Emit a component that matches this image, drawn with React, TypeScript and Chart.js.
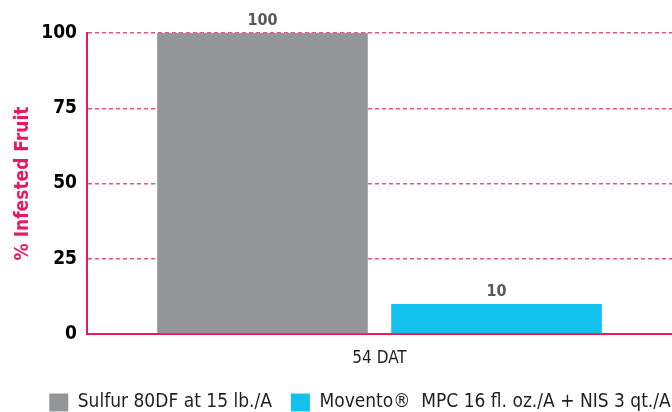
import React, { useEffect, useRef } from "react";
import { Chart, registerables } from "chart.js";

Chart.register(...registerables);

const categories = ["54 DAT"];
const seriesNames = ["Sulfur 80DF at 15 lb./A", "Movento®  MPC 16 fl. oz./A + NIS 3 qt./A"];
const sulfurValues = [100];
const moventoValues = [10];
const yTicks = [0, 25, 50, 75, 100];

const PINK = "#e8195f";
const GRID_PINK = "#ee4f85";
const GREY = "#939598";
const BLUE = "#13c1ef";
const FONT = "'DejaVu Sans Condensed', 'Roboto', sans-serif";

const valueLabels = {
  id: "valueLabels",
  afterDatasetsDraw(chart: any) {
    const ctx = chart.ctx;
    ctx.save();
    ctx.font = `bold 16px ${FONT}`;
    ctx.fillStyle = "#58595b";
    ctx.textAlign = "center";
    ctx.textBaseline = "bottom";
    chart.data.datasets.forEach((ds: any, i: number) => {
      const meta = chart.getDatasetMeta(i);
      meta.data.forEach((bar: any, j: number) => {
        ctx.fillText(String(ds.data[j]), bar.x, bar.y - 4);
      });
    });
    ctx.restore();
  },
};

const legendShift = {
  id: "legendShift",
  afterLayout(chart: any) {
    if (chart.legend) {
      chart.legend.left += 24;
      chart.legend.right += 24;
    }
  },
};

export default function App() {
  const ref = useRef<HTMLCanvasElement>(null);
  useEffect(() => {
    const chart = new Chart(ref.current!, {
      type: "bar",
      data: {
        labels: categories,
        datasets: [
          { label: seriesNames[0], data: sulfurValues, backgroundColor: GREY, barPercentage: 0.9, categoryPercentage: 0.8 },
          { label: seriesNames[1], data: moventoValues, backgroundColor: BLUE, barPercentage: 0.9, categoryPercentage: 0.8 },
        ],
      },
      options: {
        responsive: false,
        animation: false,
        layout: { padding: { top: 33, right: 0, left: 0, bottom: -10 } },
        plugins: {
          tooltip: { enabled: false },
          legend: {
            position: "bottom",
            labels: {
              boxWidth: 19,
              boxHeight: 18,
              padding: 19,
              color: "#231f20",
              font: { family: FONT, size: 19 },
            },
          },
        },
        scales: {
          x: {
            grid: { display: false, drawTicks: false },
            border: { color: PINK, width: 2 },
            ticks: { color: "#231f20", font: { family: FONT, size: 17 }, padding: 14 },
            afterFit(scale: any) { scale.height = 40; },
          },
          y: {
            min: 0,
            max: 100,
            afterBuildTicks(scale: any) { scale.ticks = yTicks.map((v) => ({ value: v })); },
            grid: { color: GRID_PINK, drawTicks: false, lineWidth: 1.5 },
            border: { color: PINK, width: 2, dash: [4, 3] },
            ticks: { color: "#000", font: { family: FONT, size: 19, weight: "bold" }, padding: 10 },
            title: { display: true, text: "% Infested Fruit", color: PINK, font: { family: FONT, size: 19, weight: "bold" }, padding: { top: 12, bottom: 10 } },
            afterFit(scale: any) { scale.width = 87; },
          },
        },
      },
      plugins: [valueLabels, legendShift],
    } as any);
    return () => chart.destroy();
  }, []);
  return (
    <div style={{ position: "absolute", left: 0, top: 0, width: 672, height: 412, background: "#fff" }}>
      <canvas ref={ref} width={672} height={412} />
    </div>
  );
}
